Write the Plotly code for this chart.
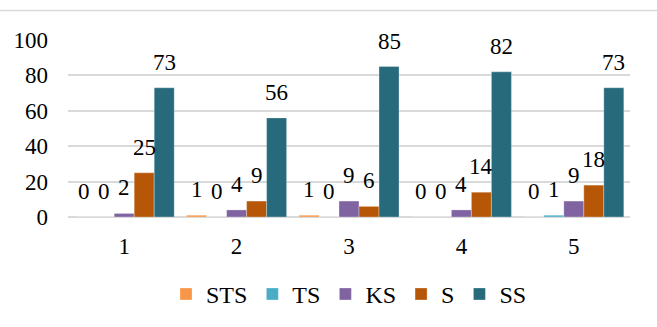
import plotly.graph_objects as go

categories = ["1", "2", "3", "4", "5"]
series_names = ["STS", "TS", "KS", "S", "SS"]
STS = [0, 1, 1, 0, 0]
TS = [0, 0, 0, 0, 1]
KS = [2, 4, 9, 4, 9]
S = [25, 9, 6, 14, 18]
SS = [73, 56, 85, 82, 73]
colors = ["#F79646", "#4BACC6", "#8064A2", "#B65708", "#276A7C"]
y_ticks = [0, 20, 40, 60, 80, 100]

series = [STS, TS, KS, S, SS]

W, H = 657, 327
ML, MR, MT, MB = 68, 27, 40, 110
BARGAP = 0.11
FONT = "Liberation Serif"
FS = 23

fig = go.Figure()
for name, vals, col in zip(series_names, series, colors):
    fig.add_trace(go.Bar(
        x=categories, y=vals, name=name,
        marker=dict(color=col, line=dict(width=0.6, color="rgba(255,255,255,0.5)")),
    ))

plot_w = W - ML - MR
plot_h = H - MT - MB
cat_w = plot_w / len(categories)
bar_w = cat_w * (1 - BARGAP) / len(series)
n = len(series)
for i, vals in enumerate(series):
    for j, v in enumerate(vals):
        fig.add_annotation(
            x=j, y=v, text=str(v), showarrow=False,
            xanchor="center", yanchor="bottom",
            xshift=(i - (n - 1) / 2) * bar_w, yshift=11,
            font=dict(family=FONT, size=FS, color="#000000"),
        )

fig.add_shape(type="line", xref="paper", yref="paper",
              x0=-ML / plot_w, x1=(W - ML) / plot_w,
              y0=(plot_h + MT - 10.5) / plot_h, y1=(plot_h + MT - 10.5) / plot_h,
              line=dict(color="#d9d9d9", width=1.5))

fig.update_layout(
    width=W, height=H,
    margin=dict(l=ML, r=MR, t=MT, b=MB, autoexpand=False),
    paper_bgcolor="white", plot_bgcolor="white",
    barmode="group", bargap=BARGAP, bargroupgap=0,
    font=dict(family=FONT, size=FS, color="#000000"),
    showlegend=True,
    legend=dict(orientation="h", x=0.5, xanchor="center", y=-0.31, yanchor="top",
                font=dict(family=FONT, size=24), itemclick=False),
    xaxis=dict(type="category", showgrid=False, showline=False, zeroline=False,
               ticklabelstandoff=13, tickfont=dict(family=FONT, size=FS)),
    yaxis=dict(range=[0, 100], tickvals=y_ticks, showgrid=True,
               gridcolor="#d9d9d9", gridwidth=1.5, zeroline=True,
               zerolinecolor="#d9d9d9", zerolinewidth=1.5, showline=False,
               ticklabelstandoff=19, tickfont=dict(family=FONT, size=FS)),
)

fig.write_html("out.html")
